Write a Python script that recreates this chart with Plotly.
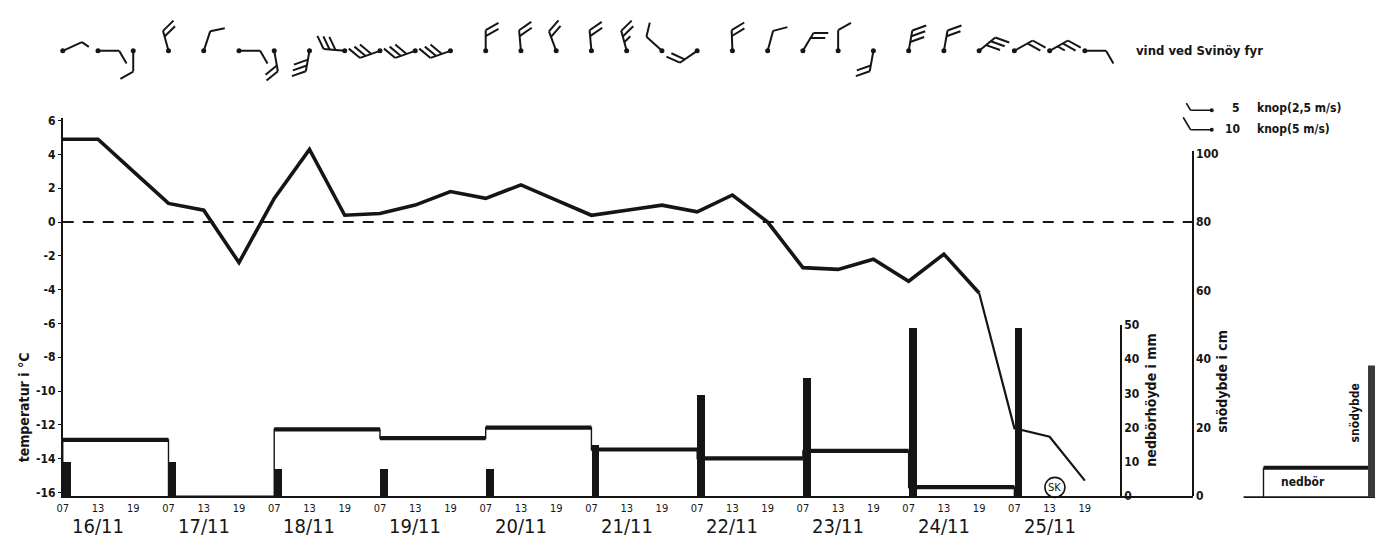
import math
import plotly.graph_objects as go

W, H = 1375, 545

# ---- data -------------------------------------------------------------
days = ["16/11", "17/11", "18/11", "19/11", "20/11",
        "21/11", "22/11", "23/11", "24/11", "25/11"]
hours = ["07", "13", "19"]

# temperature (deg C) at 07, 13, 19 each day, 16/11 07 -> 25/11 19
temperature = [4.9, 4.9, 3.0,   1.1, 0.7, -2.4,   1.4, 4.3, 0.4,
               0.5, 1.0, 1.8,   1.4, 2.2, 1.3,    0.4, 0.7, 1.0,
               0.6, 1.6, 0.0,  -2.7, -2.8, -2.2, -3.5, -1.9, -4.2,
               -12.2, -12.7, -15.3]

# precipitation (mm) for each 24 h period 07 -> 07, 16/11 .. 24/11
precip = [16.4, 0.0, 19.5, 16.9, 20.0, 13.6, 11.0, 13.2, 2.6]

# snow depth (cm) read at 07, 16/11 .. 25/11
snow_depth = [10, 10, 8, 8, 8, 15, 29.5, 34.5, 49, 49]

# wind at Svinoy lighthouse: direction (deg, from) and speed (knots)
wind_dir = [65, 90, 180, 345, 18, 90, 170, 190, 275, 250,
            250, 250, 0, 355, 340, 355, 345, 313, 235, 358,
            15, 30, 0, 190, 10, 10, 50, 60, 60, 90]
wind_kn = [5, 10, 10, 20, 10, 10, 20, 30, 30, 30,
           30, 30, 20, 20, 20, 20, 25, 10, 20, 20,
           10, 20, 10, 20, 30, 20, 30, 20, 25, 10]

temp_ticks = list(range(-16, 7, 2))
precip_ticks = [0, 10, 20, 30, 40, 50]
snow_ticks = [0, 20, 40, 60, 80, 100]

# ---- geometry helpers -------------------------------------------------
PX_UNIT = 35.4          # pixels per observation slot (07/13/19)
X0_PX = 57              # pixel column of 16/11 07


def px(xpix):
    return xpix / W


def py(ypix):
    return 1 - ypix / H


slots = list(range(len(temperature)))
slot_labels = [hours[i % 3] for i in slots]

INK = "#151515"
FONT = "DejaVu Sans Condensed, DejaVu Sans, sans-serif"

fig = go.Figure()

# temperature curve
fig.add_trace(go.Scatter(x=slots[:27], y=temperature[:27], mode="lines",
                         line=dict(color=INK, width=3.6), xaxis="x", yaxis="y",
                         hoverinfo="skip"))
fig.add_trace(go.Scatter(x=slots[26:], y=temperature[26:], mode="lines",
                         line=dict(color=INK, width=2.2), xaxis="x", yaxis="y",
                         hoverinfo="skip"))

# precipitation: thin box outline plus thick tops
ox, oy = [0], [0]
tx, ty = [], []
for d, p in enumerate(precip):
    ox += [3 * d, 3 * d + 3]
    oy += [p, p]
    if p > 0:
        tx += [3 * d, 3 * d + 3, None]
        ty += [p, p, None]
ox.append(3 * len(precip))
oy.append(0)
fig.add_trace(go.Scatter(x=ox, y=oy, mode="lines", line=dict(color=INK, width=1.4),
                         xaxis="x", yaxis="y2", hoverinfo="skip"))
fig.add_trace(go.Scatter(x=tx, y=ty, mode="lines", line=dict(color=INK, width=4.2),
                         xaxis="x", yaxis="y2", hoverinfo="skip"))

# snow depth bars at 07
fig.add_trace(go.Bar(x=[3 * d for d in range(len(snow_depth))], y=snow_depth,
                     width=0.22, offset=0, marker=dict(color=INK, line=dict(width=0)),
                     xaxis="x", yaxis="y3", hoverinfo="skip"))

# wind barbs
STAFF, LONG, SHORT, GAP, TURN = 0.6, 0.42, 0.24, 0.17, -60


def barb(x0, y0, compass, knots):
    th = math.radians(90 - compass)
    ux, uy = math.cos(th), math.sin(th)
    fth = th + math.radians(TURN)
    fx, fy = math.cos(fth), math.sin(fth)
    xs = [x0, x0 + STAFF * ux, None]
    ys = [y0, y0 + STAFF * uy, None]
    n_long, rest = divmod(knots, 10)
    lengths = [LONG] * n_long + [SHORT] * (rest // 5)
    for k, ln in enumerate(lengths):
        bx = x0 + (STAFF - k * GAP) * ux
        by = y0 + (STAFF - k * GAP) * uy
        xs += [bx, bx + ln * fx, None]
        ys += [by, by + ln * fy, None]
    return xs, ys


bx, by = [], []
for i, (dr, kn) in enumerate(zip(wind_dir, wind_kn)):
    xs, ys = barb(i, 0, dr, kn)
    bx += xs
    by += ys
fig.add_trace(go.Scatter(x=bx, y=by, mode="lines", line=dict(color=INK, width=2),
                         xaxis="x3", yaxis="y4", hoverinfo="skip"))
fig.add_trace(go.Scatter(x=slots, y=[0] * len(slots), mode="markers",
                         marker=dict(color=INK, size=5), xaxis="x3", yaxis="y4",
                         hoverinfo="skip"))

# barb key (5 and 10 knots, westerly)
key_x = (1211 - X0_PX) / PX_UNIT
kx, ky, dots_y = [], [], []
for kn, ypix in [(5, 106), (10, 126)]:
    ky0 = (45 - ypix) / PX_UNIT
    xs, ys = barb(key_x, ky0, 270, kn)
    kx += xs
    ky += ys
    dots_y.append(ky0)
fig.add_trace(go.Scatter(x=kx, y=ky, mode="lines", line=dict(color=INK, width=1.6),
                         xaxis="x3", yaxis="y4", hoverinfo="skip"))
fig.add_trace(go.Scatter(x=[key_x, key_x], y=dots_y, mode="markers",
                         marker=dict(color=INK, size=4), xaxis="x3", yaxis="y4",
                         hoverinfo="skip"))

x_max = (1192 - X0_PX) / PX_UNIT
t_lo, t_hi = (220.7 - 502) / 17.35, (220.7 - 114) / 17.35
mm_px = 3.516

tick_font = dict(family=FONT, size=12, color=INK, weight="bold")
axis_common = dict(showgrid=False, zeroline=False, linecolor=INK)

fig.update_layout(
    width=W, height=H, margin=dict(l=0, r=0, t=0, b=0),
    paper_bgcolor="white", plot_bgcolor="rgba(0,0,0,0)",
    showlegend=False, bargap=0,
    xaxis=dict(domain=[px(X0_PX), px(1192)], range=[0, x_max], anchor="y",
               showline=True, linewidth=2, tickvals=slots, ticktext=slot_labels,
               ticks="", tickangle=0, ticklabelstandoff=1,
               tickfont=dict(family=FONT, size=11, color=INK), **axis_common),
    yaxis=dict(domain=[py(502), py(114)], range=[t_lo, t_hi], anchor="x",
               showline=True, linewidth=1.6, tickvals=temp_ticks,
               ticktext=[str(t) for t in temp_ticks], ticks="outside", ticklen=3,
               tickcolor=INK, tickfont=tick_font, **axis_common),
    yaxis2=dict(domain=[py(502), py(326)], range=[0, (502 - 326) / mm_px],
                anchor="free", position=px(1120), side="right", showline=True,
                linewidth=1.6, tickvals=precip_ticks, ticks="", tickfont=tick_font,
                **axis_common),
    yaxis3=dict(domain=[py(502), py(148)], range=[0, (502 - 148) / mm_px],
                anchor="free", position=px(1192), side="right", showline=True,
                linewidth=1.6, tickvals=snow_ticks, ticks="", tickfont=tick_font,
                **axis_common),
    xaxis3=dict(domain=[0, 1], range=[-X0_PX / PX_UNIT, (W - X0_PX) / PX_UNIT],
                anchor="y4", visible=False),
    yaxis4=dict(domain=[py(140), 1], range=[-(140 - 45) / PX_UNIT, 45 / PX_UNIT],
                anchor="x3", visible=False),
)

# 0 deg C reference
fig.add_shape(type="line", xref="x", yref="y", x0=0, x1=x_max, y0=0, y1=0,
              line=dict(color=INK, width=2, dash="11px,9px"))

# precipitation / snow depth key
fig.add_shape(type="line", xref="paper", yref="paper", x0=px(1243), x1=px(1375),
              y0=py(503), y1=py(503), line=dict(color=INK, width=1.6))
fig.add_shape(type="line", xref="paper", yref="paper", x0=px(1263), x1=px(1263),
              y0=py(503), y1=py(473), line=dict(color=INK, width=1.4))
fig.add_shape(type="line", xref="paper", yref="paper", x0=px(1263), x1=px(1368),
              y0=py(473), y1=py(473), line=dict(color=INK, width=4))
fig.add_shape(type="rect", xref="paper", yref="paper", x0=px(1368), x1=px(1378),
              y0=py(503), y1=py(368), fillcolor="#3a3a3a", line=dict(width=0))

# SK marker
fig.add_shape(type="circle", xref="x", yref="paper", xsizemode="pixel",
              ysizemode="pixel", xanchor=28.15, yanchor=py(493),
              x0=-10, x1=10, y0=-10, y1=10, line=dict(color=INK, width=1.6))


def note(text, xp, yp, size=13, angle=0, anchor="center", xref="paper", bold=False):
    fig.add_annotation(text=text, x=xp if xref != "paper" else px(xp), y=py(yp),
                       xref=xref, yref="paper", showarrow=False, textangle=angle,
                       xanchor=anchor, yanchor="middle",
                       font=dict(family=FONT, size=size, color=INK,
                                 weight="bold" if bold else "normal"))


for d, day in enumerate(days):
    note(day, 3 * d + 1, 533, size=20, xref="x")

note("SK", 28.15, 493, size=11, xref="x")
note("temperatur i °C", 19, 411, size=14, angle=-90, bold=True)
note("nedbörhöyde i mm", 1150, 403, size=14, angle=-90, bold=True)
note("snödybde i cm", 1221, 384, size=14, angle=-90, bold=True)
note("vind ved Svinöy fyr", 1133, 45, size=13, anchor="left", bold=True)
note("5", 1241, 104, size=12, anchor="right", bold=True)
note("knop(2,5 m/s)", 1254, 104, size=12, anchor="left", bold=True)
note("10", 1241, 125, size=12, anchor="right", bold=True)
note("knop(5 m/s)", 1254, 125, size=12, anchor="left", bold=True)
note("nedbör", 1303, 488, size=12, bold=True)
note("snödybde", 1355, 417, size=12, angle=-90, bold=True)

fig.write_html("out.html")
